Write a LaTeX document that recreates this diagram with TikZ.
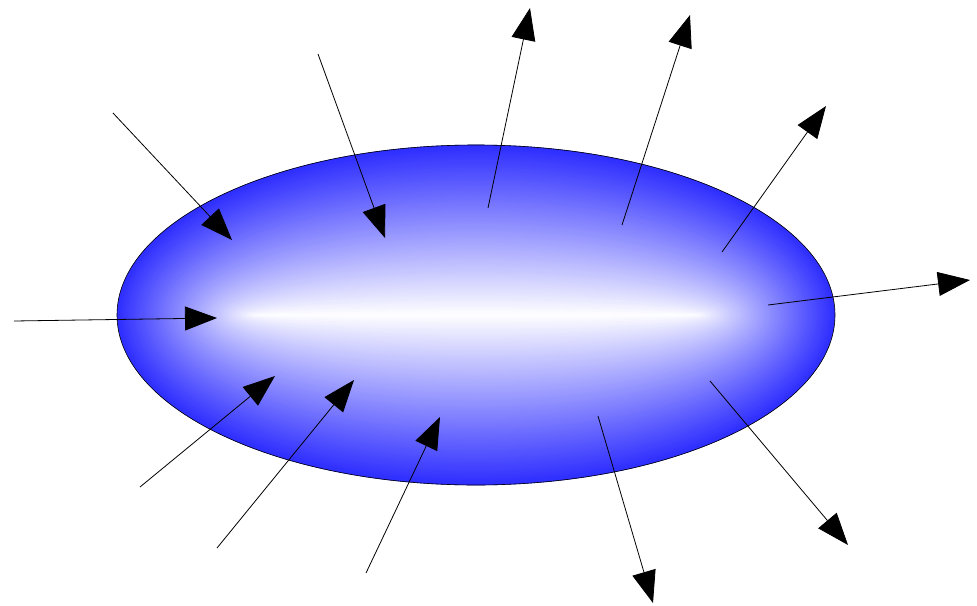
\documentclass[tikz,border=0pt]{standalone}
\usetikzlibrary{arrows.meta}
\begin{document}
\begin{tikzpicture}[x=1pt,y=-1pt,
  flow/.style={line width=0.8pt,-{Triangle[length=32pt,width=24pt]}}]
\useasboundingbox (0,0) rectangle (977,605);
% shaded ellipse: concentric ellipses from outer to inner
\foreach \i in {0,...,90}{
  \pgfmathsetmacro{\t}{1-\i/90}
  \pgfmathsetmacro{\rx}{220+139*\t}
  \pgfmathsetmacro{\ry}{170*\t+0.3}
  \pgfmathsetmacro{\c}{82*\t}
  \fill[blue!\c!white] (476,315) ellipse [x radius=\rx, y radius=\ry];
}
\draw[line width=0.6pt] (476,315) ellipse [x radius=359, y radius=170];
% inward arrows
\coordinate (a1) at (113,113); \coordinate (b1) at (232,240);
\coordinate (a2) at (318,54);  \coordinate (b2) at (385,238);
\coordinate (a3) at (14,321);  \coordinate (b3) at (217,318);
\coordinate (a4) at (140,487); \coordinate (b4) at (275,376);
\coordinate (a5) at (217,548); \coordinate (b5) at (354,380);
\coordinate (a6) at (366,573); \coordinate (b6) at (440,417);
% outward arrows
\coordinate (a7) at (488,208);  \coordinate (b7) at (530,8);
\coordinate (a8) at (622,225);  \coordinate (b8) at (690,15);
\coordinate (a9) at (722,252);  \coordinate (b9) at (826,106);
\coordinate (a10) at (768,305); \coordinate (b10) at (970,280);
\coordinate (a11) at (710,381); \coordinate (b11) at (848,545);
\coordinate (a12) at (598,416); \coordinate (b12) at (653,603);
\foreach \k in {1,...,12}{\draw[flow] (a\k) -- (b\k);}
\end{tikzpicture}
\end{document}
